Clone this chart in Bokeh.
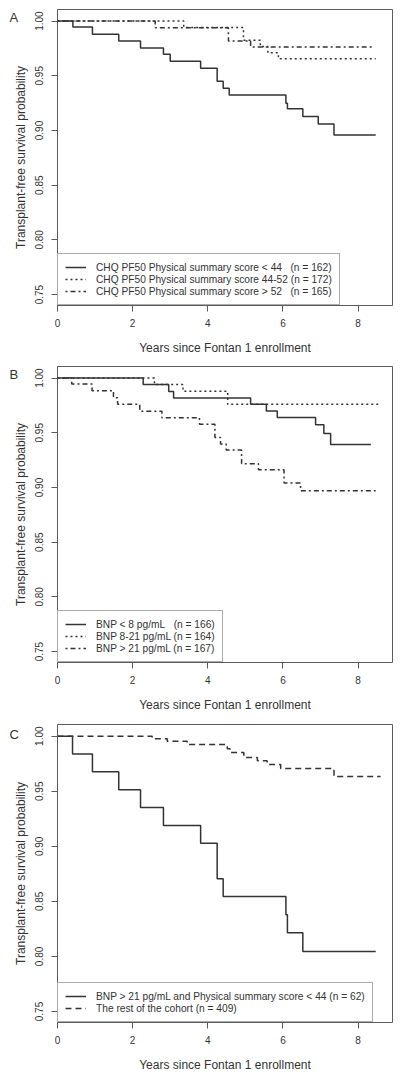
from bokeh.plotting import figure
from bokeh.layouts import column
from bokeh.models import Range1d, FixedTicker, Legend, LegendItem, Label
from bokeh.embed import file_html
from bokeh.resources import INLINE

# ---------------- data ----------------
panel_letters = ["A", "B", "C"]
x_label = "Years since Fontan 1 enrollment"
y_label = "Transplant-free survival probability"
x_ticks = [0, 2, 4, 6, 8]
y_ticks = [0.75, 0.80, 0.85, 0.90, 0.95, 1.00]
y_tick_labels = ["0.75", "0.80", "0.85", "0.90", "0.95", "1.00"]

# Panel A: CHQ PF50 physical summary score
a_labels = ["CHQ PF50 Physical summary score < 44\u00a0\u00a0\u00a0(n = 162)",
            "CHQ PF50 Physical summary score 44-52 (n = 172)",
            "CHQ PF50 Physical summary score > 52\u00a0\u00a0\u00a0(n = 165)"]
a_lt44_t = [0, 0.41, 0.93, 1.63, 2.21, 2.82, 3.00, 3.81, 4.25, 4.41, 4.57, 6.08, 6.12, 6.53, 6.94, 7.36, 8.47]
a_lt44_s = [1.0, 0.9946, 0.988, 0.9818, 0.9755, 0.9698, 0.9634, 0.9568, 0.945, 0.9386, 0.9325, 0.925, 0.9198, 0.9128, 0.906, 0.8959, 0.8959]
a_mid_t = [0, 3.36, 4.95, 5.40, 5.60, 5.88, 8.47]
a_mid_s = [1.0, 0.9942, 0.9826, 0.9768, 0.971, 0.9655, 0.9655]
a_gt52_t = [0, 2.60, 4.55, 5.14, 8.43]
a_gt52_s = [1.0, 0.9939, 0.9818, 0.9764, 0.9764]

# Panel B: BNP
b_labels = ["BNP < 8 pg/mL\u00a0\u00a0\u00a0(n = 166)",
            "BNP 8-21 pg/mL (n = 164)",
            "BNP > 21 pg/mL (n = 167)"]
b_lt8_t = [0, 2.28, 2.96, 3.09, 5.14, 5.56, 5.85, 6.87, 7.09, 7.27, 8.34]
b_lt8_s = [1.0, 0.9942, 0.9878, 0.9818, 0.976, 0.970, 0.964, 0.9573, 0.9494, 0.9394, 0.9394]
b_mid_t = [0, 2.58, 3.34, 4.53, 8.6]
b_mid_s = [1.0, 0.9942, 0.988, 0.976, 0.976]
b_gt21_t = [0, 0.38, 0.92, 1.49, 1.60, 2.19, 2.78, 3.78, 4.19, 4.34, 4.49, 4.90, 5.35, 6.03, 6.47, 8.47]
b_gt21_s = [1.0, 0.9945, 0.9885, 0.982, 0.976, 0.9697, 0.9637, 0.9579, 0.9458, 0.9397, 0.9343, 0.9216, 0.9161, 0.904, 0.897, 0.897]

# Panel C: combined
c_labels = ["BNP > 21 pg/mL and Physical summary score < 44 (n = 62)",
            "The rest of the cohort (n = 409)"]
c_risk_t = [0, 0.40, 0.93, 1.63, 2.21, 2.82, 3.81, 4.25, 4.41, 6.08, 6.12, 6.53, 8.47]
c_risk_s = [1.0, 0.9837, 0.9677, 0.9513, 0.9352, 0.9189, 0.9028, 0.8705, 0.8544, 0.8378, 0.8215, 0.8045, 0.8045]
c_rest_t = [0, 2.52, 2.92, 3.45, 4.52, 4.59, 4.96, 5.32, 5.58, 5.94, 7.36, 8.6]
c_rest_s = [1.0, 0.9976, 0.9954, 0.9924, 0.9885, 0.9851, 0.9806, 0.9776, 0.9742, 0.9707, 0.9634, 0.9634]

# ---------------- style ----------------
FONT = "Liberation Sans"
INK = "#333333"
FRAME = "#5a5a5a"
DASH = {"solid": "solid", "dotted": "2 3", "dotdash": "2 3 5 3", "dashed": "6 4"}


def make_panel(letter, series, labels, height, top, bottom, frame_h):
    p = figure(width=400, height=height, output_backend="svg", toolbar_location=None,
               x_range=Range1d(0, 8.917), y_range=Range1d(0.74, 1.0106),
               min_border_left=57, min_border_right=8, min_border_top=top,
               min_border_bottom=bottom)
    p.xgrid.visible = False
    p.ygrid.visible = False
    p.outline_line_color = FRAME
    p.outline_line_width = 1
    p.background_fill_color = "white"
    p.border_fill_color = "white"

    for ax in (p.xaxis[0], p.yaxis[0]):
        ax.axis_line_color = None
        ax.major_tick_line_color = FRAME
        ax.major_tick_out = 6
        ax.major_tick_in = 0
        ax.minor_tick_line_color = None
        ax.major_label_text_font = FONT
        ax.major_label_text_font_size = "10px"
        ax.major_label_text_color = INK
        ax.axis_label_text_font = FONT
        ax.axis_label_text_font_size = "12px"
        ax.axis_label_text_font_style = "normal"
        ax.axis_label_text_color = INK

    p.xaxis[0].ticker = FixedTicker(ticks=x_ticks)
    p.xaxis[0].major_label_standoff = 7
    p.xaxis[0].axis_label = x_label
    p.xaxis[0].axis_label_standoff = 11

    p.yaxis[0].ticker = FixedTicker(ticks=y_ticks)
    p.yaxis[0].major_label_overrides = {t: l for t, l in zip(y_ticks, y_tick_labels)}
    p.yaxis[0].major_label_orientation = "vertical"
    p.yaxis[0].major_label_standoff = 8
    p.yaxis[0].axis_label = y_label
    p.yaxis[0].axis_label_standoff = 5

    items = []
    for (t, s, style), lab in zip(series, labels):
        r = p.step(t, s, mode="after", line_color=INK, line_width=1.5,
                   line_dash=DASH[style])
        items.append(LegendItem(label=lab, renderers=[r]))

    leg = Legend(items=items, location="bottom_left", margin=0, padding=7, spacing=0,
                 glyph_width=21, glyph_height=12, label_height=12, label_standoff=10,
                 label_text_font=FONT, label_text_font_size="10.2px",
                 label_text_color=INK, border_line_color=FRAME, border_line_width=1,
                 background_fill_color="white", background_fill_alpha=1.0)
    p.add_layout(leg)

    # panel letter, in the outer left side panel beside the top of the frame
    p.add_layout(Label(x=8, y=frame_h - 9.5, x_units="screen", y_units="screen",
                       text=letter, text_font=FONT, text_font_size="13px",
                       text_color=INK, text_baseline="alphabetic",
                       text_align="left"), "left")
    return p


pa = make_panel(panel_letters[0],
                [(a_lt44_t, a_lt44_s, "solid"), (a_mid_t, a_mid_s, "dotted"),
                 (a_gt52_t, a_gt52_s, "dotdash")], a_labels, 357, 9, 50, 298)
pb = make_panel(panel_letters[1],
                [(b_lt8_t, b_lt8_s, "solid"), (b_mid_t, b_mid_s, "dotted"),
                 (b_gt21_t, b_gt21_s, "dotdash")], b_labels, 357, 9, 50, 298)
pc = make_panel(panel_letters[2],
                [(c_risk_t, c_risk_s, "solid"), (c_rest_t, c_rest_s, "dashed")],
                c_labels, 364, 10, 56, 298)

layout = column(pa, pb, pc, spacing=0)
open("out.html", "w").write(file_html(layout, INLINE))
